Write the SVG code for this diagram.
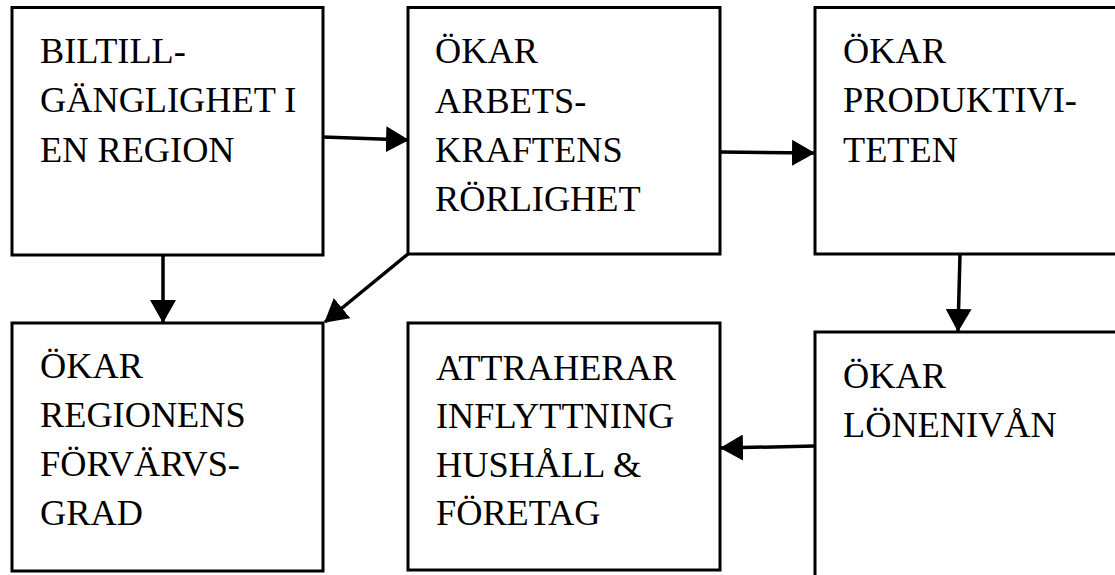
<svg xmlns="http://www.w3.org/2000/svg" width="1115" height="575" viewBox="0 0 1115 575">
<style>
.box{fill:#fff;stroke:#000;stroke-width:3}
.lbl{font-family:'Liberation Serif','Times New Roman',serif;font-size:36.3px;fill:#000}
.conn{stroke:#000;stroke-width:3.5;fill:none;marker-end:url(#ah)}
</style>
<defs>
<marker id="ah" markerUnits="userSpaceOnUse" markerWidth="23" markerHeight="26" refX="22" refY="13" orient="auto" viewBox="0 0 23 26">
<path d="M0,0 L23,13 L0,26 z" fill="#000"/>
</marker>
</defs>
<rect width="1115" height="575" fill="#fff"/>
<g id="n1">
<rect class="box" x="12" y="7.5" width="311" height="247.5"/>
<text class="lbl"><tspan x="40" y="63">BILTILL-</tspan><tspan x="40" y="112">GÄNGLIGHET I</tspan><tspan x="40" y="162">EN REGION</tspan></text>
</g>
<g id="n2">
<rect class="box" x="408" y="7.5" width="312" height="246.5"/>
<text class="lbl"><tspan x="435" y="63">ÖKAR</tspan><tspan x="435" y="113">ARBETS-</tspan><tspan x="435" y="162">KRAFTENS</tspan><tspan x="435" y="211">RÖRLIGHET</tspan></text>
</g>
<g id="n3">
<rect class="box" x="815" y="7.5" width="320" height="246.5"/>
<text class="lbl"><tspan x="843" y="63">ÖKAR</tspan><tspan x="843" y="112">PRODUKTIVI-</tspan><tspan x="843" y="162">TETEN</tspan></text>
</g>
<g id="n4">
<rect class="box" x="12" y="323" width="311" height="248"/>
<text class="lbl"><tspan x="40" y="378">ÖKAR</tspan><tspan x="40" y="427">REGIONENS</tspan><tspan x="40" y="476">FÖRVÄRVS-</tspan><tspan x="40" y="525">GRAD</tspan></text>
</g>
<g id="n5">
<rect class="box" x="408" y="323" width="312" height="247"/>
<text class="lbl"><tspan x="436" y="380">ATTRAHERAR</tspan><tspan x="436" y="428">INFLYTTNING</tspan><tspan x="436" y="477">HUSHÅLL &amp;</tspan><tspan x="436" y="525">FÖRETAG</tspan></text>
</g>
<g id="n6">
<rect class="box" x="815" y="332" width="320" height="260"/>
<text class="lbl"><tspan x="843" y="388">ÖKAR</tspan><tspan x="843" y="437">LÖNENIVÅN</tspan></text>
</g>
<g id="connectors">
<line class="conn" x1="323" y1="137" x2="408" y2="140"/>
<line class="conn" x1="720" y1="152" x2="814" y2="153"/>
<line class="conn" x1="960" y1="254" x2="958" y2="331"/>
<line class="conn" x1="163" y1="255" x2="163" y2="322"/>
<line class="conn" x1="408" y1="254" x2="325" y2="322"/>
<line class="conn" x1="815" y1="446" x2="721" y2="448"/>
</g>
</svg>
